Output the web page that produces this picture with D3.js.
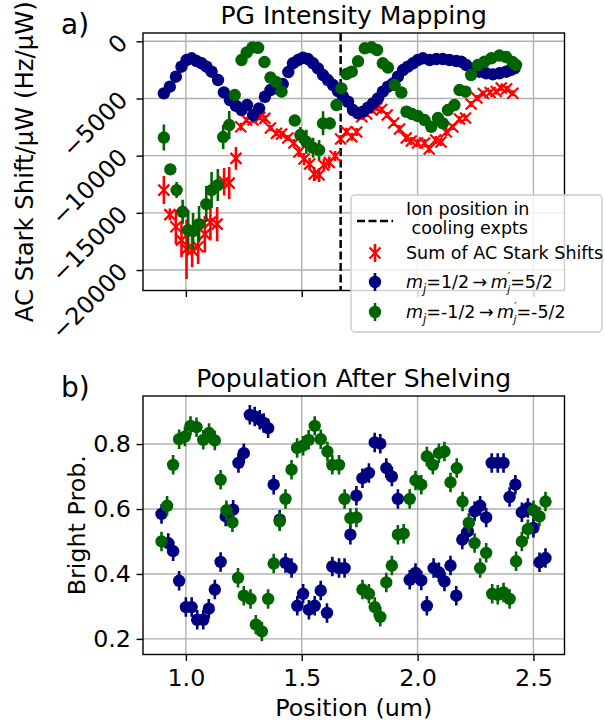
<!DOCTYPE html>
<html><head><meta charset="utf-8">
<script src="https://cdn.jsdelivr.net/npm/d3@7"></script>
<style>
body{margin:0;background:#fff}
svg{display:block}
text{font-family:'DejaVu Sans',sans-serif;fill:#000}
</style>
</head><body>
<svg id="c" width="605" height="724"></svg>
<script>
// ---------------- data ----------------
const xTicks = [1.0, 1.5, 2.0, 2.5];
const xDomain = [0.815, 2.634];
const topYTicks = [0, -5000, -10000, -15000, -20000];
const topYDomain = [-21790, 726];
const botYTicks = [0.2, 0.4, 0.6, 0.8];
const botYDomain = [0.152, 0.948];
const ionPosition = 1.668;

const topBlueX = [0.905,0.931,0.957,0.981,1.003,1.025,1.046,1.068,1.089,1.111,1.139,1.164,1.190,1.216,1.240,1.264,1.290,1.316,1.341,1.365,1.391,1.418,1.442,1.462,1.484,1.506,1.527,1.549,1.570,1.592,1.613,1.635,1.656,1.678,1.700,1.721,1.743,1.764,1.786,1.807,1.829,1.850,1.872,1.894,1.915,1.937,1.958,1.980,2.001,2.023,2.052,2.081,2.109,2.138,2.167,2.188,2.210,2.238,2.267,2.296,2.325,2.353,2.382,2.401,2.418];
const topBlueY = [-4550,-3973,-3098,-2223,-1636,-1488,-1724,-1925,-2223,-2660,-3386,-4463,-5136,-5635,-6011,-5574,-6449,-5863,-4848,-4261,-4113,-3736,-2686,-1925,-1636,-1435,-1549,-1925,-2363,-2949,-3386,-3824,-4349,-4848,-5285,-6011,-6300,-6160,-5810,-5425,-4988,-4410,-3973,-3675,-3098,-2511,-2223,-1925,-1636,-1488,-1636,-1549,-1549,-1636,-1724,-1785,-2074,-2511,-2660,-2800,-2888,-2800,-2660,-2511,-2363];
const topBlueErr = 200;

const topGreenX = [0.905,0.933,0.960,0.986,1.010,1.031,1.057,1.088,1.111,1.138,1.161,1.187,1.211,1.240,1.262,1.287,1.312,1.339,1.365,1.389,1.413,1.470,1.494,1.520,1.549,1.575,1.592,1.621,1.650,1.671,1.693,1.716,1.743,1.772,1.801,1.825,1.850,1.872,1.901,1.930,1.952,1.976,2.001,2.030,2.059,2.088,2.109,2.131,2.159,2.181,2.207,2.231,2.260,2.289,2.318,2.353,2.382,2.410,2.425];
const topGreenY = [-8418,-11200,-13011,-14910,-16511,-16599,-15986,-14236,-13011,-12574,-8374,-7324,-4699,-1636,-980,-543,-569,-1811,-3168,-3544,-4410,-6930,-8199,-8785,-9310,-9511,-7175,-7175,-5574,-4113,-2861,-2660,-1750,-613,-525,-761,-1925,-2293,-3824,-4480,-6160,-6361,-6536,-6886,-7473,-6711,-7175,-6011,-5574,-4261,-4410,-2949,-2074,-1785,-1488,-1243,-1374,-1811,-2074];
const topGreenErr = [1138,350,700,1050,1750,1575,1575,1575,1575,1400,1050,1225,525,263,175,175,175,175,263,263,263,350,700,1050,875,875,1050,525,438,263,175,175,175,175,175,175,175,175,175,175,263,263,263,263,263,263,263,175,175,175,175,175,175,175,175,175,175,175,175];

const topRedX = [0.905,0.931,0.957,0.981,1.003,1.027,1.053,1.082,1.106,1.135,1.165,1.187,1.216,1.237,1.262,1.290,1.319,1.341,1.365,1.391,1.413,1.440,1.466,1.488,1.510,1.534,1.554,1.575,1.595,1.619,1.644,1.668,1.693,1.716,1.737,1.759,1.780,1.802,1.823,1.845,1.869,1.897,1.922,1.951,1.973,2.000,2.030,2.050,2.078,2.101,2.124,2.152,2.181,2.207,2.231,2.256,2.284,2.313,2.339,2.361,2.384,2.411];
const topRedY = [-13011,-15155,-16223,-17386,-18174,-18261,-17972,-16861,-15811,-15986,-12285,-12399,-10238,-7473,-6886,-6886,-6650,-6738,-7586,-8050,-8111,-8461,-8899,-9686,-10299,-10736,-11611,-11699,-10824,-10605,-10036,-8549,-7910,-8348,-7936,-6598,-6361,-6011,-5836,-5968,-6449,-7149,-7674,-8461,-8724,-8899,-8899,-9424,-8636,-8811,-7936,-7499,-6799,-6711,-5486,-4961,-4568,-4480,-4393,-4086,-4174,-4550];
const topRedErr = [1225,525,1500,1500,2600,1500,1500,1600,1600,1500,1200,1400,1000,350,263,263,263,263,263,263,263,263,350,438,525,525,613,613,525,525,438,350,350,350,350,263,263,263,263,263,263,263,350,350,350,350,350,350,350,350,350,263,263,263,263,263,263,263,263,263,263,263];

const botBlueX = [0.895,0.924,0.945,0.971,1.000,1.025,1.049,1.075,1.099,1.125,1.150,1.172,1.204,1.227,1.250,1.276,1.297,1.319,1.336,1.355,1.379,1.405,1.430,1.456,1.481,1.506,1.531,1.556,1.582,1.609,1.632,1.661,1.685,1.710,1.736,1.762,1.790,1.815,1.839,1.865,1.889,1.915,1.966,1.991,2.016,2.040,2.069,2.092,2.116,2.142,2.167,2.193,2.217,2.246,2.270,2.296,2.320,2.346,2.371,2.397,2.422,2.450,2.476,2.500,2.526,2.552];
const botBlueY = [0.585,0.495,0.470,0.379,0.298,0.298,0.259,0.259,0.293,0.352,0.437,0.577,0.598,0.742,0.772,0.890,0.885,0.875,0.865,0.849,0.675,0.567,0.434,0.418,0.302,0.339,0.290,0.302,0.349,0.280,0.423,0.418,0.418,0.521,0.641,0.695,0.711,0.805,0.801,0.726,0.700,0.631,0.382,0.403,0.380,0.302,0.418,0.405,0.377,0.426,0.333,0.506,0.531,0.593,0.610,0.574,0.742,0.742,0.742,0.637,0.675,0.590,0.603,0.542,0.436,0.449];
const botGreenX = [0.895,0.919,0.945,0.971,0.996,1.020,1.046,1.075,1.100,1.125,1.150,1.175,1.201,1.225,1.250,1.279,1.302,1.328,1.355,1.379,1.405,1.430,1.456,1.480,1.506,1.530,1.556,1.582,1.611,1.632,1.661,1.685,1.710,1.736,1.762,1.790,1.815,1.839,1.865,1.889,1.915,1.940,1.966,1.991,2.016,2.040,2.066,2.092,2.116,2.142,2.169,2.194,2.221,2.246,2.270,2.296,2.322,2.346,2.371,2.397,2.425,2.450,2.476,2.500,2.526,2.552];
const botGreenY = [0.500,0.610,0.736,0.815,0.823,0.856,0.852,0.813,0.834,0.811,0.690,0.596,0.559,0.388,0.333,0.323,0.244,0.223,0.323,0.432,0.562,0.631,0.721,0.788,0.795,0.813,0.856,0.815,0.777,0.736,0.736,0.631,0.572,0.574,0.352,0.339,0.298,0.268,0.374,0.426,0.521,0.524,0.631,0.688,0.675,0.762,0.736,0.772,0.777,0.682,0.726,0.623,0.557,0.495,0.418,0.465,0.339,0.336,0.343,0.323,0.439,0.500,0.538,0.596,0.577,0.623];
const botErr = 0.03;

// ---------------- layout ----------------
const BLUE = '#000080', GREEN = '#006400', RED = '#ff0000', GRID = '#b0b0b0';
const FS = 23.8, TITLE_FS = 25, LEG_FS = 17.5;
const R = 6.2, EW = 2.6, LW = 1.4;
const axL = 143, axR = 564.5;
const P1 = {t: 33, b: 290.5};
const P2 = {t: 396, b: 654.5};

const svg = d3.select('#c');
const x = d3.scaleLinear().domain(xDomain).range([axL, axR]);
const yTop = d3.scaleLinear().domain(topYDomain).range([P1.b, P1.t]);
const yBot = d3.scaleLinear().domain(botYDomain).range([P2.b, P2.t]);

const defs = svg.append('defs');
[['clip1', P1], ['clip2', P2]].forEach(([id, p]) => {
  defs.append('clipPath').attr('id', id).append('rect')
    .attr('x', axL).attr('y', p.t).attr('width', axR - axL).attr('height', p.b - p.t);
});

function grid(g, p, yScale, yT) {
  g.selectAll(null).data(xTicks).join('line')
    .attr('x1', d => x(d)).attr('x2', d => x(d)).attr('y1', p.t).attr('y2', p.b)
    .attr('stroke', GRID).attr('stroke-width', LW);
  g.selectAll(null).data(yT).join('line')
    .attr('y1', d => yScale(d)).attr('y2', d => yScale(d)).attr('x1', axL).attr('x2', axR)
    .attr('stroke', GRID).attr('stroke-width', LW);
}

function errSeries(g, xs, ys, errs, yScale, color, marker) {
  const idx = d3.range(xs.length);
  const e = i => Array.isArray(errs) ? errs[i] : errs;
  g.append('g').selectAll('line').data(idx).join('line')
    .attr('x1', i => x(xs[i])).attr('x2', i => x(xs[i]))
    .attr('y1', i => yScale(ys[i] - e(i))).attr('y2', i => yScale(ys[i] + e(i)))
    .attr('stroke', color).attr('stroke-width', EW);
  if (marker === 'x') {
    g.append('g').selectAll('path').data(idx).join('path')
      .attr('transform', i => `translate(${x(xs[i])},${yScale(ys[i])})`)
      .attr('d', 'M-5.5,-5.5L5.5,5.5M-5.5,5.5L5.5,-5.5')
      .attr('stroke', color).attr('stroke-width', 2.2).attr('fill', 'none');
  } else {
    g.append('g').selectAll('circle').data(idx).join('circle')
      .attr('cx', i => x(xs[i])).attr('cy', i => yScale(ys[i])).attr('r', R)
      .attr('fill', color);
  }
}

function styleAxis(g) {
  g.select('.domain').remove();
  g.selectAll('.tick line').attr('stroke', '#000').attr('stroke-width', LW);
  g.selectAll('.tick text').attr('font-size', FS).attr('font-family', "'DejaVu Sans',sans-serif").attr('fill', '#000');
}

// ---------- Panel a ----------
const g1 = svg.append('g');
grid(g1, P1, yTop, topYTicks);
const d1 = g1.append('g').attr('clip-path', 'url(#clip1)');
d1.append('line').attr('x1', x(ionPosition)).attr('x2', x(ionPosition))
  .attr('y1', P1.t).attr('y2', P1.b).attr('stroke', '#000').attr('stroke-width', 2.5)
  .attr('stroke-dasharray', '8,3.5');
errSeries(d1, topRedX, topRedY, topRedErr, yTop, RED, 'x');
errSeries(d1, topBlueX, topBlueY, topBlueErr, yTop, BLUE, 'o');
errSeries(d1, topGreenX, topGreenY, topGreenErr, yTop, GREEN, 'o');

const ay1 = g1.append('g').attr('transform', `translate(${axL},0)`)
  .call(d3.axisLeft(yTop).tickValues(topYTicks).tickSize(6.5).tickSizeOuter(0)
    .tickFormat(d => d === 0 ? '0' : '\u2212' + Math.abs(d)));
styleAxis(ay1);
ay1.selectAll('.tick text').attr('x', null).attr('dy', '0.36em')
  .attr('text-anchor', 'end').attr('transform', 'translate(-20,-3.5) rotate(-45)');
const ax1 = g1.append('g').attr('transform', `translate(0,${P1.b})`)
  .call(d3.axisBottom(x).tickValues(xTicks).tickSize(6.5).tickSizeOuter(0).tickFormat(''));
styleAxis(ax1);
g1.append('rect').attr('x', axL).attr('y', P1.t).attr('width', axR - axL).attr('height', P1.b - P1.t)
  .attr('fill', 'none').attr('stroke', '#000').attr('stroke-width', LW);

g1.append('text').attr('x', (axL + axR) / 2).attr('y', 24).attr('text-anchor', 'middle')
  .attr('font-size', TITLE_FS).text('PG Intensity Mapping');
g1.append('text').attr('x', 61).attr('y', 33.5).attr('font-size', 28).text('a)');
g1.append('text').attr('transform', `translate(32.5,${(P1.t + P1.b) / 2}) rotate(-90)`)
  .attr('text-anchor', 'middle').attr('font-size', 24.3).text('AC Stark Shift/\u03bcW (Hz/\u03bcW)');

// ---------- Panel b ----------
const g2 = svg.append('g');
grid(g2, P2, yBot, botYTicks);
const d2 = g2.append('g').attr('clip-path', 'url(#clip2)');
errSeries(d2, botBlueX, botBlueY, botErr, yBot, BLUE, 'o');
errSeries(d2, botGreenX, botGreenY, botErr, yBot, GREEN, 'o');

const ay2 = g2.append('g').attr('transform', `translate(${axL},0)`)
  .call(d3.axisLeft(yBot).tickValues(botYTicks).tickSize(6.5).tickSizeOuter(0).tickPadding(5.5)
    .tickFormat(d3.format('.1f')));
styleAxis(ay2);
const ax2 = g2.append('g').attr('transform', `translate(0,${P2.b})`)
  .call(d3.axisBottom(x).tickValues(xTicks).tickSize(6.5).tickSizeOuter(0).tickPadding(8)
    .tickFormat(d3.format('.1f')));
styleAxis(ax2);
g2.append('rect').attr('x', axL).attr('y', P2.t).attr('width', axR - axL).attr('height', P2.b - P2.t)
  .attr('fill', 'none').attr('stroke', '#000').attr('stroke-width', LW);

g2.append('text').attr('x', (axL + axR) / 2).attr('y', 387).attr('text-anchor', 'middle')
  .attr('font-size', TITLE_FS).text('Population After Shelving');
g2.append('text').attr('x', 61).attr('y', 396.5).attr('font-size', 28).text('b)');
g2.append('text').attr('transform', `translate(85,${(P2.t + P2.b) / 2}) rotate(-90)`)
  .attr('text-anchor', 'middle').attr('font-size', FS).text('Bright Prob.');
g2.append('text').attr('x', (axL + axR) / 2).attr('y', 716).attr('text-anchor', 'middle')
  .attr('font-size', FS).text('Position (um)');

// ---------- Legend ----------
const lg = svg.append('g');
lg.append('rect').attr('x', 351).attr('y', 195).attr('width', 251).attr('height', 137)
  .attr('rx', 4).attr('fill', '#fff').attr('fill-opacity', 0.8)
  .attr('stroke', '#cccccc').attr('stroke-width', LW);
const hx = 375, tx = 406;
lg.append('line').attr('x1', 357).attr('x2', 393).attr('y1', 221).attr('y2', 221)
  .attr('stroke', '#000').attr('stroke-width', 2.5).attr('stroke-dasharray', '8,3.5');
lg.append('text').attr('x', tx).attr('y', 215).attr('font-size', LEG_FS).text('Ion position in');
lg.append('text').attr('x', tx).attr('y', 233.5).attr('font-size', LEG_FS)
  .attr('xml:space', 'preserve').text(' cooling expts');

function legMarker(cy, color, marker) {
  lg.append('line').attr('x1', hx).attr('x2', hx).attr('y1', cy - 9).attr('y2', cy + 9)
    .attr('stroke', color).attr('stroke-width', EW);
  if (marker === 'x') {
    lg.append('path').attr('transform', `translate(${hx},${cy})`).attr('d', 'M-5.5,-5.5L5.5,5.5M-5.5,5.5L5.5,-5.5')
      .attr('stroke', color).attr('stroke-width', 2.2);
  } else {
    lg.append('circle').attr('cx', hx).attr('cy', cy).attr('r', R).attr('fill', color);
  }
}
legMarker(253, RED, 'x');
lg.append('text').attr('x', tx).attr('y', 259).attr('font-size', LEG_FS).text('Sum of AC Stark Shifts');

function mathLabel(y, a, b) {
  const t = lg.append('text').attr('x', tx).attr('y', y).attr('font-size', LEG_FS);
  t.append('tspan').attr('font-style', 'italic').text('m');
  t.append('tspan').attr('font-style', 'italic').attr('font-size', 11.5).attr('dy', 4.5).text('j');
  t.append('tspan').attr('dy', -4.5).text('=' + a + '\u2009\u2192\u2009');
  t.append('tspan').attr('font-style', 'italic').text('m');
  t.append('tspan').attr('font-style', 'italic').attr('font-size', 10.5).attr('dy', -8.5).text('\u2032');
  t.append('tspan').attr('font-style', 'italic').attr('font-size', 10.5).attr('dx', -3).attr('dy', 13).text('j');
  t.append('tspan').attr('dy', -4.5).text('=' + b);
}
legMarker(282, BLUE, 'o');
mathLabel(288, '1/2', '5/2');
legMarker(312, GREEN, 'o');
mathLabel(318, '-1/2', '-5/2');
</script>
</body></html>
